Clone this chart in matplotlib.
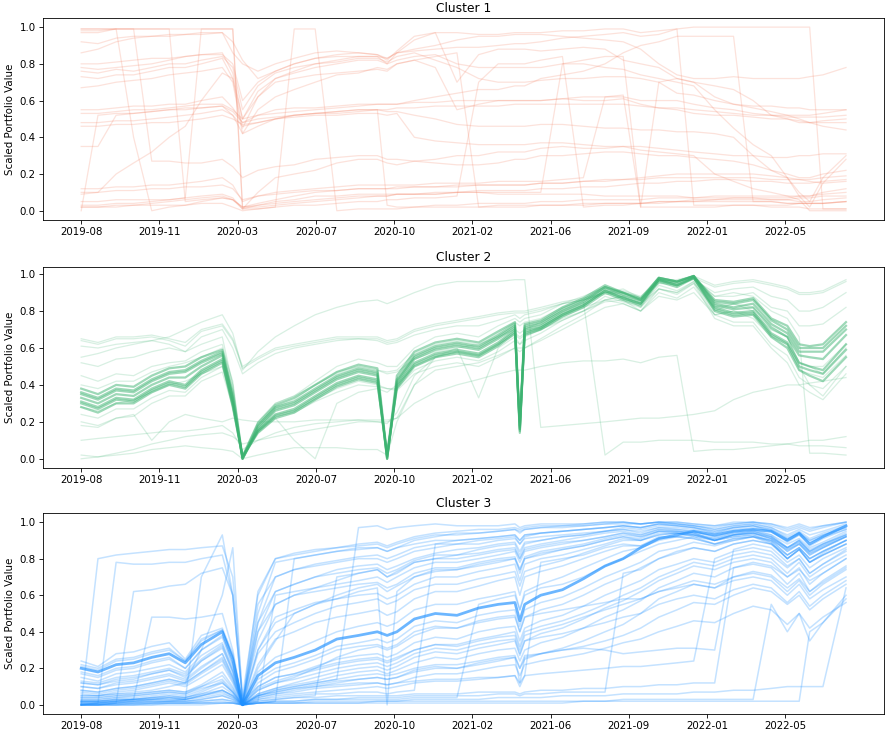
import numpy as np
import pandas as pd
import matplotlib
matplotlib.use('Agg')
import matplotlib.pyplot as plt
import matplotlib.dates as mdates

# shared sampling dates for every portfolio line
dates = pd.to_datetime([
    '2019-08-01', '2019-08-25', '2019-09-20', '2019-10-15', '2019-11-10', '2019-12-05',
    '2019-12-28', '2020-01-20', '2020-02-19', '2020-03-05', '2020-03-19', '2020-04-10',
    '2020-05-05', '2020-06-01', '2020-07-01', '2020-08-01', '2020-09-01', '2020-09-28',
    '2020-10-12', '2020-10-26', '2020-11-20', '2020-12-20', '2021-01-20', '2021-02-20',
    '2021-03-20', '2021-04-13', '2021-04-20', '2021-04-27', '2021-05-20', '2021-06-20',
    '2021-07-20', '2021-08-20', '2021-09-15', '2021-10-10', '2021-11-05', '2021-12-01',
    '2021-12-25', '2022-01-24', '2022-02-20', '2022-03-20', '2022-04-15', '2022-05-08',
    '2022-05-25', '2022-06-09', '2022-06-28', '2022-07-31'])

tick_dates = pd.to_datetime(['2019-08-01', '2019-11-21', '2020-03-12', '2020-07-02', '2020-10-22',
                             '2021-02-11', '2021-06-03', '2021-09-23', '2022-01-13', '2022-05-05'])

titles = ['Cluster 1', 'Cluster 2', 'Cluster 3']
colors = ['#f4876b', 'mediumseagreen', 'dodgerblue']

# ---- cluster 1 ----
c1_lines = [
    [0.92,0.91,0.94,0.95,0.95,0.96,0.96,0.97,0.97,0.86,0.80,0.76,0.80,0.83,0.86,0.87,0.86,0.85,0.82,0.87,0.95,0.97,0.97,0.96,0.96,0.97,0.97,0.97,0.97,0.98,0.98,0.99,0.99,0.97,0.98,0.99,1.00,1.00,1.00,1.00,1.00,1.00,1.00,1.00,0.01,0.01],
    [0.86,0.88,0.92,0.94,0.95,0.95,0.96,0.96,0.97,0.92,0.82,0.72,0.76,0.80,0.83,0.84,0.84,0.84,0.83,0.86,0.87,0.88,0.89,0.89,0.90,0.91,0.91,0.91,0.92,0.94,0.95,0.96,0.97,0.95,0.96,0.99,0.03,0.03,0.03,0.03,0.02,0.02,0.02,0.01,0.01,0.01],
    [0.99,0.99,0.99,0.99,0.99,0.99,0.99,0.99,0.99,0.99,0.02,0.02,0.03,0.04,0.05,0.06,0.07,0.08,0.08,0.09,0.09,0.10,0.10,0.11,0.11,0.11,0.11,0.11,0.12,0.12,0.13,0.13,0.14,0.15,0.15,0.16,0.16,0.17,0.17,0.16,0.16,0.15,0.15,0.15,0.16,0.17],
    [0.73,0.72,0.74,0.74,0.76,0.78,0.78,0.80,0.83,0.72,0.45,0.62,0.72,0.76,0.80,0.82,0.84,0.84,0.80,0.86,0.93,0.97,0.70,0.85,0.88,0.88,0.88,0.88,0.87,0.88,0.89,0.88,0.82,0.80,0.78,0.72,0.70,0.68,0.66,0.60,0.52,0.50,0.48,0.48,0.49,0.50],
    [0.76,0.75,0.77,0.76,0.78,0.80,0.80,0.82,0.84,0.78,0.55,0.68,0.75,0.78,0.80,0.81,0.83,0.83,0.81,0.84,0.86,0.82,0.78,0.72,0.70,0.70,0.70,0.70,0.71,0.72,0.72,0.73,0.73,0.72,0.70,0.64,0.63,0.60,0.58,0.57,0.57,0.56,0.56,0.55,0.55,0.55],
    [0.78,0.77,0.78,0.79,0.80,0.82,0.84,0.85,0.85,0.80,0.60,0.70,0.76,0.80,0.83,0.85,0.86,0.85,0.83,0.86,0.88,0.90,0.93,0.95,0.95,0.96,0.96,0.96,0.96,0.95,0.94,0.93,0.92,0.88,0.80,0.74,0.72,0.72,0.73,0.72,0.72,0.72,0.72,0.73,0.74,0.78],
    [0.67,0.68,0.70,0.71,0.72,0.74,0.75,0.76,0.78,0.70,0.42,0.55,0.62,0.66,0.70,0.74,0.75,0.78,0.77,0.80,0.82,0.78,0.55,0.58,0.60,0.60,0.60,0.60,0.60,0.61,0.62,0.62,0.62,0.60,0.60,0.60,0.58,0.56,0.55,0.53,0.52,0.52,0.52,0.52,0.53,0.55],
    [0.53,0.53,0.54,0.55,0.55,0.56,0.57,0.58,0.58,0.55,0.50,0.52,0.53,0.54,0.55,0.56,0.57,0.58,0.58,0.58,0.59,0.59,0.60,0.60,0.60,0.60,0.60,0.60,0.60,0.61,0.60,0.60,0.61,0.58,0.56,0.55,0.53,0.52,0.52,0.51,0.50,0.50,0.49,0.48,0.48,0.48],
    [0.48,0.48,0.49,0.49,0.50,0.51,0.52,0.53,0.55,0.52,0.46,0.48,0.50,0.52,0.53,0.54,0.55,0.55,0.54,0.54,0.52,0.50,0.47,0.46,0.46,0.46,0.46,0.46,0.47,0.47,0.46,0.45,0.45,0.44,0.44,0.43,0.43,0.42,0.40,0.30,0.22,0.18,0.10,0.05,0.18,0.30],
    [0.46,0.46,0.47,0.47,0.48,0.48,0.49,0.50,0.52,0.50,0.47,0.48,0.50,0.52,0.53,0.54,0.55,0.55,0.03,0.02,0.02,0.03,0.03,0.04,0.04,0.04,0.04,0.04,0.05,0.05,0.06,0.06,0.06,0.06,0.07,0.07,0.07,0.08,0.08,0.08,0.08,0.08,0.08,0.08,0.09,0.10],
    [0.35,0.35,0.52,0.53,0.54,0.55,0.56,0.56,0.57,0.54,0.48,0.50,0.51,0.52,0.53,0.53,0.54,0.55,0.55,0.56,0.56,0.57,0.57,0.57,0.57,0.58,0.58,0.58,0.58,0.58,0.58,0.58,0.58,0.57,0.56,0.56,0.55,0.54,0.53,0.52,0.52,0.51,0.51,0.51,0.51,0.52],
    [0.00,0.52,0.53,0.53,0.54,0.55,0.55,0.56,0.57,0.52,0.42,0.46,0.50,0.51,0.52,0.52,0.53,0.53,0.52,0.53,0.40,0.38,0.37,0.36,0.36,0.36,0.36,0.36,0.37,0.37,0.36,0.35,0.35,0.35,0.34,0.33,0.32,0.31,0.30,0.30,0.29,0.29,0.30,0.30,0.31,0.31],
    [0.09,0.10,0.20,0.26,0.32,0.40,0.46,0.60,0.75,0.72,0.50,0.62,0.70,0.72,0.74,0.75,0.76,0.77,0.76,0.80,0.82,0.84,0.86,0.02,0.02,0.02,0.02,0.02,0.03,0.03,0.03,0.04,0.04,0.04,0.05,0.05,0.05,0.06,0.06,0.06,0.06,0.06,0.07,0.07,0.08,0.08],
    [0.97,0.97,0.99,0.40,0.00,0.02,0.03,0.05,0.07,0.06,0.02,0.04,0.06,0.08,0.10,0.11,0.12,0.12,0.12,0.13,0.13,0.13,0.14,0.14,0.14,0.14,0.14,0.14,0.15,0.15,0.16,0.16,0.17,0.17,0.18,0.18,0.18,0.18,0.18,0.18,0.17,0.17,0.17,0.17,0.18,0.19],
    [0.98,0.98,0.99,0.99,0.27,0.27,0.26,0.26,0.28,0.24,0.18,0.22,0.24,0.25,0.28,0.29,0.30,0.30,0.28,0.28,0.27,0.26,0.25,0.25,0.26,0.28,0.28,0.28,0.30,0.30,0.31,0.32,0.32,0.31,0.30,0.30,0.29,0.28,0.27,0.25,0.22,0.20,0.18,0.18,0.20,0.22],
    [0.99,0.99,0.99,0.99,0.99,0.99,0.05,0.06,0.07,0.06,0.02,0.03,0.04,0.05,0.06,0.07,0.08,0.08,0.08,0.09,0.09,0.09,0.10,0.10,0.10,0.10,0.10,0.10,0.10,0.80,0.82,0.84,0.84,0.02,0.02,0.02,0.02,0.02,0.03,0.03,0.03,0.03,0.04,0.04,0.04,0.05],
    [0.05,0.05,0.06,0.06,0.06,0.06,0.07,0.99,0.99,0.99,0.01,0.01,0.02,0.99,0.99,0.00,0.01,0.01,0.01,0.01,0.02,0.02,0.02,0.02,0.03,0.03,0.03,0.03,0.03,0.03,0.04,0.04,0.04,0.04,0.04,0.05,0.05,0.05,0.05,0.05,0.05,0.04,0.04,0.04,0.04,0.05],
    [0.02,0.02,0.03,0.03,0.04,0.05,0.06,0.07,0.08,0.06,0.01,0.10,0.18,0.20,0.22,0.26,0.28,0.28,0.26,0.25,0.27,0.28,0.30,0.30,0.32,0.32,0.32,0.32,0.34,0.35,0.34,0.34,0.35,0.33,0.32,0.31,0.30,0.20,0.16,0.12,0.10,0.08,0.06,0.00,0.00,0.00],
    [0.10,0.10,0.11,0.11,0.12,0.12,0.13,0.13,0.14,0.12,0.06,0.08,0.09,0.10,0.11,0.11,0.12,0.12,0.12,0.12,0.13,0.13,0.13,0.14,0.14,0.14,0.14,0.14,0.15,0.15,0.16,0.17,0.17,0.18,0.19,0.20,0.20,0.20,0.20,0.20,0.19,0.18,0.17,0.16,0.15,0.16],
    [0.03,0.03,0.04,0.04,0.05,0.06,0.07,0.08,0.09,0.07,0.01,0.03,0.05,0.06,0.08,0.08,0.09,0.09,0.09,0.09,0.09,0.09,0.10,0.10,0.09,0.09,0.09,0.09,0.09,0.09,0.09,0.08,0.08,0.08,0.08,0.08,0.07,0.07,0.07,0.07,0.06,0.06,0.05,0.05,0.06,0.07],
    [0.02,0.02,0.02,0.03,0.03,0.03,0.03,0.04,0.04,0.02,0.00,0.01,0.02,0.03,0.03,0.04,0.05,0.05,0.06,0.06,0.07,0.07,0.08,0.70,0.80,0.80,0.80,0.80,0.82,0.84,0.02,0.03,0.03,0.04,0.05,0.05,0.06,0.06,0.07,0.07,0.07,0.07,0.08,0.08,0.10,0.12],
    [0.12,0.12,0.13,0.13,0.14,0.14,0.15,0.16,0.18,0.14,0.05,0.08,0.10,0.11,0.12,0.13,0.14,0.14,0.14,0.14,0.14,0.15,0.15,0.15,0.16,0.16,0.16,0.16,0.16,0.17,0.18,0.62,0.63,0.02,0.70,0.72,0.70,0.62,0.58,0.56,0.54,0.52,0.50,0.48,0.46,0.44],
    [0.55,0.55,0.56,0.57,0.57,0.58,0.58,0.60,0.62,0.56,0.48,0.52,0.55,0.56,0.56,0.57,0.58,0.58,0.58,0.58,0.60,0.62,0.64,0.66,0.66,0.68,0.68,0.68,0.72,0.74,0.76,0.80,0.86,0.90,0.92,0.95,0.95,0.95,0.95,0.05,0.05,0.04,0.04,0.04,0.04,0.05],
    [0.80,0.80,0.81,0.82,0.83,0.83,0.84,0.85,0.86,0.75,0.50,0.65,0.72,0.75,0.78,0.80,0.82,0.82,0.80,0.82,0.84,0.85,0.80,0.78,0.78,0.78,0.78,0.78,0.78,0.80,0.80,0.78,0.77,0.74,0.72,0.70,0.68,0.55,0.45,0.36,0.30,0.18,0.08,0.02,0.15,0.28],
]

# ---- cluster 2 ----
c2_core = [
    [0.35,0.32,0.37,0.36,0.42,0.46,0.47,0.52,0.57,0.33,0.00,0.17,0.27,0.30,0.37,0.44,0.48,0.46,0.00,0.42,0.55,0.60,0.62,0.60,0.66,0.72,0.15,0.71,0.73,0.80,0.85,0.93,0.89,0.86,0.98,0.96,0.99,0.84,0.82,0.84,0.73,0.68,0.58,0.58,0.58,0.70],
    [0.38,0.35,0.40,0.39,0.45,0.49,0.50,0.55,0.59,0.36,0.01,0.19,0.29,0.33,0.40,0.47,0.51,0.49,0.02,0.45,0.58,0.63,0.65,0.63,0.69,0.74,0.18,0.73,0.75,0.82,0.87,0.94,0.90,0.87,0.98,0.96,0.99,0.86,0.85,0.87,0.76,0.72,0.62,0.61,0.62,0.74],
    [0.31,0.28,0.33,0.32,0.38,0.42,0.40,0.48,0.54,0.30,0.00,0.15,0.24,0.27,0.34,0.41,0.45,0.43,0.00,0.40,0.52,0.57,0.59,0.57,0.63,0.70,0.14,0.69,0.71,0.78,0.83,0.91,0.87,0.84,0.97,0.94,0.98,0.82,0.79,0.80,0.68,0.63,0.52,0.50,0.48,0.62],
    [0.28,0.25,0.30,0.30,0.36,0.40,0.38,0.46,0.52,0.28,0.01,0.14,0.22,0.25,0.32,0.39,0.43,0.41,0.03,0.38,0.50,0.55,0.57,0.55,0.61,0.68,0.20,0.67,0.70,0.77,0.82,0.90,0.86,0.83,0.96,0.93,0.98,0.80,0.77,0.78,0.66,0.60,0.48,0.45,0.42,0.55],
    [0.33,0.30,0.35,0.34,0.40,0.44,0.44,0.50,0.56,0.32,0.00,0.16,0.26,0.29,0.36,0.43,0.47,0.45,0.01,0.41,0.54,0.59,0.61,0.59,0.65,0.71,0.16,0.70,0.72,0.79,0.84,0.92,0.88,0.85,0.97,0.95,0.99,0.83,0.81,0.82,0.71,0.66,0.56,0.55,0.54,0.67],
    [0.36,0.33,0.38,0.37,0.43,0.47,0.48,0.53,0.58,0.34,0.00,0.18,0.28,0.31,0.38,0.45,0.49,0.47,0.00,0.43,0.56,0.61,0.63,0.61,0.67,0.73,0.16,0.72,0.74,0.81,0.86,0.93,0.90,0.86,0.98,0.96,0.99,0.85,0.84,0.86,0.75,0.70,0.60,0.60,0.60,0.72],
    [0.30,0.27,0.32,0.31,0.37,0.41,0.39,0.47,0.53,0.29,0.01,0.15,0.23,0.26,0.33,0.40,0.44,0.42,0.01,0.39,0.51,0.56,0.58,0.56,0.62,0.69,0.17,0.68,0.71,0.78,0.83,0.91,0.87,0.84,0.97,0.94,0.98,0.81,0.78,0.79,0.67,0.62,0.50,0.48,0.46,0.59],
]
c2_other = [
    [0.65,0.63,0.66,0.66,0.67,0.65,0.63,0.70,0.73,0.65,0.50,0.55,0.60,0.62,0.64,0.66,0.66,0.66,0.64,0.65,0.70,0.73,0.75,0.77,0.79,0.80,0.80,0.80,0.82,0.85,0.87,0.90,0.91,0.88,0.96,0.97,0.99,0.94,0.96,0.97,0.95,0.93,0.90,0.90,0.91,0.97],
    [0.64,0.62,0.65,0.65,0.66,0.64,0.61,0.69,0.72,0.64,0.49,0.54,0.59,0.61,0.63,0.65,0.65,0.65,0.63,0.64,0.69,0.72,0.74,0.76,0.78,0.79,0.79,0.79,0.81,0.84,0.86,0.89,0.90,0.87,0.95,0.96,0.98,0.93,0.95,0.96,0.94,0.92,0.89,0.89,0.90,0.96],
    [0.24,0.22,0.27,0.27,0.33,0.37,0.36,0.44,0.50,0.30,0.02,0.16,0.24,0.26,0.32,0.38,0.42,0.40,0.38,0.38,0.48,0.53,0.55,0.53,0.58,0.64,0.62,0.64,0.68,0.75,0.80,0.88,0.85,0.82,0.94,0.91,0.96,0.78,0.74,0.74,0.62,0.56,0.44,0.40,0.38,0.50],
    [0.18,0.17,0.22,0.23,0.30,0.34,0.34,0.42,0.47,0.28,0.02,0.15,0.23,0.25,0.31,0.36,0.40,0.39,0.38,0.37,0.46,0.50,0.52,0.50,0.55,0.60,0.58,0.60,0.65,0.72,0.78,0.86,0.84,0.80,0.92,0.89,0.95,0.76,0.72,0.72,0.60,0.52,0.40,0.36,0.32,0.46],
    [0.52,0.50,0.54,0.55,0.58,0.60,0.58,0.62,0.66,0.40,0.02,0.20,0.30,0.34,0.42,0.50,0.54,0.52,0.50,0.50,0.60,0.66,0.68,0.66,0.72,0.76,0.74,0.76,0.78,0.84,0.88,0.93,0.90,0.86,0.97,0.95,0.98,0.88,0.88,0.90,0.82,0.80,0.72,0.72,0.73,0.82],
    [0.61,0.60,0.62,0.63,0.64,0.62,0.58,0.66,0.70,0.60,0.46,0.52,0.57,0.60,0.62,0.64,0.65,0.64,0.62,0.63,0.67,0.70,0.72,0.72,0.75,0.78,0.76,0.78,0.80,0.84,0.86,0.90,0.90,0.86,0.95,0.94,0.97,0.90,0.92,0.93,0.88,0.86,0.80,0.80,0.82,0.90],
    [0.55,0.57,0.60,0.62,0.64,0.66,0.70,0.74,0.78,0.68,0.48,0.58,0.66,0.72,0.78,0.82,0.85,0.86,0.84,0.86,0.90,0.94,0.96,0.96,0.96,0.97,0.97,0.97,0.17,0.18,0.19,0.20,0.21,0.22,0.22,0.23,0.24,0.26,0.32,0.36,0.38,0.40,0.40,0.41,0.42,0.44],
    [0.10,0.11,0.12,0.13,0.14,0.15,0.15,0.16,0.18,0.14,0.05,0.10,0.14,0.17,0.19,0.20,0.21,0.20,0.19,0.25,0.45,0.55,0.60,0.62,0.66,0.70,0.68,0.70,0.74,0.80,0.85,0.02,0.09,0.09,0.10,0.10,0.10,0.09,0.09,0.09,0.08,0.08,0.07,0.07,0.07,0.06],
    [0.02,0.01,0.03,0.05,0.08,0.10,0.12,0.13,0.14,0.12,0.08,0.10,0.12,0.14,0.16,0.18,0.20,0.20,0.20,0.22,0.30,0.36,0.40,0.43,0.46,0.48,0.48,0.48,0.50,0.52,0.53,0.53,0.54,0.52,0.55,0.56,0.04,0.05,0.05,0.06,0.07,0.08,0.09,0.10,0.10,0.12],
    [0.00,0.01,0.02,0.03,0.05,0.06,0.07,0.06,0.05,0.04,0.00,0.02,0.04,0.06,0.06,0.06,0.05,0.05,0.02,0.20,0.40,0.55,0.58,0.56,0.62,0.68,0.66,0.68,0.70,0.75,0.80,0.86,0.88,0.84,0.92,0.90,0.95,0.82,0.84,0.80,0.70,0.66,0.52,0.50,0.50,0.62],
    [0.20,0.18,0.22,0.24,0.10,0.20,0.24,0.22,0.20,0.22,0.21,0.20,0.20,0.20,0.21,0.21,0.21,0.21,0.21,0.22,0.40,0.48,0.50,0.52,0.56,0.60,0.60,0.60,0.64,0.70,0.76,0.82,0.84,0.80,0.88,0.86,0.90,0.78,0.80,0.76,0.66,0.62,0.48,0.46,0.44,0.56],
    [0.28,0.26,0.30,0.32,0.36,0.40,0.42,0.46,0.50,0.30,0.02,0.14,0.22,0.10,0.00,0.30,0.36,0.38,0.36,0.40,0.50,0.55,0.58,0.56,0.62,0.67,0.65,0.67,0.70,0.76,0.80,0.85,0.86,0.80,0.90,0.87,0.93,0.78,0.80,0.78,0.70,0.66,0.50,0.40,0.34,0.50],
    [0.40,0.38,0.42,0.42,0.47,0.50,0.52,0.55,0.60,0.42,0.02,0.20,0.30,0.34,0.40,0.47,0.50,0.48,0.47,0.48,0.57,0.62,0.64,0.62,0.68,0.74,0.72,0.74,0.76,0.82,0.86,0.90,0.92,0.87,0.96,0.94,0.98,0.88,0.90,0.88,0.80,0.76,0.66,0.03,0.03,0.02],
    [0.45,0.42,0.46,0.45,0.50,0.52,0.53,0.58,0.62,0.40,0.01,0.18,0.28,0.32,0.40,0.46,0.50,0.48,0.46,0.47,0.54,0.58,0.60,0.33,0.60,0.66,0.62,0.66,0.70,0.77,0.82,0.86,0.88,0.82,0.92,0.90,0.96,0.80,0.84,0.82,0.72,0.66,0.52,0.50,0.46,0.60],
]

# ---- cluster 3 ----
c3_core = [
    [0.20,0.18,0.22,0.23,0.26,0.28,0.23,0.33,0.40,0.25,0.00,0.16,0.23,0.26,0.30,0.36,0.38,0.40,0.38,0.40,0.47,0.50,0.49,0.53,0.55,0.56,0.46,0.55,0.60,0.63,0.69,0.76,0.80,0.86,0.91,0.93,0.95,0.93,0.95,0.96,0.95,0.90,0.94,0.88,0.92,0.98],
]
c3_other = [
    [0.01,0.01,0.01,0.02,0.02,0.02,0.02,0.03,0.05,0.03,0.00,0.02,0.03,0.04,0.04,0.05,0.05,0.05,0.05,0.05,0.06,0.06,0.06,0.07,0.07,0.07,0.06,0.07,0.08,0.08,0.09,0.09,0.10,0.10,0.11,0.11,0.12,0.12,0.75,0.78,0.76,0.70,0.74,0.68,0.72,0.80],
    [0.24,0.21,0.28,0.29,0.32,0.34,0.25,0.38,0.42,0.28,0.01,0.50,0.78,0.80,0.82,0.84,0.86,0.86,0.84,0.86,0.90,0.92,0.94,0.94,0.95,0.96,0.95,0.96,0.97,0.97,0.98,0.99,1.00,0.99,1.00,1.00,0.99,0.98,1.00,1.00,0.99,0.97,0.99,0.97,0.98,1.00],
    [0.00,0.80,0.82,0.83,0.84,0.85,0.85,0.86,0.87,0.70,0.05,0.60,0.80,0.82,0.84,0.86,0.88,0.89,0.87,0.89,0.92,0.94,0.95,0.96,0.96,0.97,0.96,0.97,0.98,0.98,0.99,1.00,1.00,0.99,1.00,0.99,0.98,0.97,0.99,1.00,0.99,0.96,0.98,0.96,0.98,1.00],
    [0.00,0.01,0.78,0.77,0.77,0.78,0.78,0.80,0.82,0.60,0.03,0.45,0.70,0.74,0.76,0.78,0.80,0.80,0.78,0.80,0.84,0.86,0.88,0.88,0.90,0.91,0.88,0.91,0.92,0.93,0.94,0.95,0.96,0.95,0.97,0.97,0.96,0.94,0.96,0.97,0.95,0.90,0.93,0.89,0.92,0.96],
    [0.01,0.01,0.01,0.62,0.63,0.65,0.66,0.72,0.75,0.60,0.02,0.40,0.62,0.66,0.70,0.74,0.76,0.77,0.74,0.76,0.80,0.83,0.85,0.86,0.88,0.89,0.84,0.89,0.90,0.92,0.93,0.95,0.96,0.94,0.97,0.96,0.95,0.92,0.94,0.95,0.92,0.86,0.90,0.85,0.88,0.93],
    [0.00,0.01,0.02,0.03,0.48,0.48,0.47,0.48,0.50,0.30,0.01,0.30,0.45,0.50,0.55,0.60,0.64,0.66,0.62,0.65,0.70,0.73,0.74,0.76,0.78,0.80,0.74,0.80,0.82,0.85,0.87,0.90,0.92,0.91,0.95,0.94,0.93,0.90,0.92,0.93,0.90,0.82,0.86,0.80,0.84,0.90],
    [0.00,0.00,0.01,0.01,0.02,0.02,0.03,0.70,0.93,0.60,0.02,0.35,0.55,0.60,0.64,0.68,0.72,0.74,0.70,0.72,0.78,0.80,0.82,0.83,0.85,0.86,0.80,0.86,0.88,0.90,0.92,0.94,0.95,0.93,0.96,0.95,0.94,0.90,0.92,0.93,0.89,0.80,0.85,0.78,0.82,0.88],
    [0.15,0.13,0.17,0.18,0.20,0.22,0.18,0.27,0.34,0.20,0.00,0.12,0.18,0.21,0.25,0.30,0.32,0.33,0.31,0.33,0.40,0.43,0.42,0.46,0.48,0.49,0.40,0.48,0.52,0.55,0.60,0.66,0.70,0.75,0.80,0.83,0.86,0.84,0.88,0.90,0.88,0.82,0.86,0.80,0.84,0.90],
    [0.10,0.09,0.12,0.13,0.15,0.17,0.14,0.21,0.28,0.16,0.00,0.10,0.15,0.17,0.21,0.25,0.27,0.28,0.26,0.28,0.34,0.37,0.36,0.40,0.42,0.43,0.35,0.42,0.46,0.49,0.54,0.60,0.64,0.68,0.74,0.77,0.80,0.78,0.82,0.84,0.82,0.75,0.80,0.72,0.77,0.84],
    [0.06,0.05,0.07,0.08,0.10,0.12,0.10,0.15,0.22,0.12,0.00,0.08,0.12,0.14,0.17,0.20,0.22,0.23,0.21,0.23,0.28,0.31,0.30,0.33,0.35,0.36,0.28,0.35,0.39,0.42,0.47,0.53,0.57,0.62,0.68,0.72,0.76,0.74,0.78,0.80,0.78,0.70,0.75,0.66,0.72,0.80],
    [0.03,0.03,0.04,0.05,0.06,0.07,0.06,0.10,0.16,0.09,0.00,0.06,0.09,0.11,0.13,0.16,0.18,0.19,0.17,0.19,0.23,0.26,0.25,0.28,0.30,0.31,0.24,0.30,0.34,0.37,0.42,0.48,0.52,0.57,0.64,0.68,0.72,0.70,0.75,0.77,0.75,0.66,0.72,0.62,0.68,0.76],
    [0.02,0.02,0.03,0.03,0.04,0.05,0.04,0.07,0.12,0.07,0.00,0.05,0.07,0.09,0.11,0.13,0.14,0.15,0.14,0.15,0.19,0.21,0.20,0.23,0.25,0.26,0.20,0.25,0.28,0.31,0.35,0.40,0.44,0.50,0.58,0.62,0.66,0.64,0.70,0.72,0.70,0.62,0.68,0.60,0.66,0.74],
    [0.00,0.00,0.01,0.01,0.01,0.01,0.01,0.02,0.03,0.02,0.00,0.01,0.02,0.02,0.03,0.03,0.03,0.03,0.03,0.03,0.04,0.04,0.04,0.55,0.58,0.60,0.52,0.60,0.64,0.66,0.70,0.76,0.80,0.84,0.88,0.90,0.92,0.90,0.93,0.94,0.92,0.86,0.90,0.84,0.88,0.94],
    [0.05,0.05,0.06,0.06,0.07,0.08,0.07,0.10,0.14,0.08,0.00,0.05,0.08,0.10,0.12,0.14,0.97,0.98,0.96,0.97,0.98,0.99,0.98,0.98,0.98,0.99,0.97,0.98,0.99,0.99,0.99,1.00,1.00,0.99,1.00,0.99,0.98,0.96,0.98,0.99,0.97,0.93,0.96,0.93,0.95,0.99],
    [0.00,0.00,0.00,0.01,0.01,0.01,0.01,0.01,0.02,0.01,0.00,0.01,0.02,0.80,0.82,0.84,0.85,0.86,0.84,0.86,0.88,0.90,0.90,0.91,0.92,0.93,0.90,0.93,0.94,0.95,0.96,0.97,0.98,0.97,0.99,0.98,0.97,0.95,0.97,0.98,0.96,0.91,0.94,0.90,0.93,0.97],
    [0.08,0.07,0.09,0.10,0.12,0.14,0.12,0.18,0.25,0.14,0.00,0.20,0.35,0.50,0.55,0.58,0.62,0.64,0.00,0.62,0.70,0.74,0.74,0.77,0.79,0.80,0.72,0.80,0.83,0.85,0.87,0.90,0.92,0.90,0.94,0.94,0.92,0.88,0.91,0.92,0.88,0.80,0.85,0.78,0.82,0.88],
    [0.01,0.01,0.02,0.02,0.03,0.03,0.03,0.05,0.08,0.05,0.00,0.04,0.06,0.08,0.10,0.12,0.14,0.15,0.14,0.15,0.18,0.20,0.20,0.22,0.24,0.26,0.12,0.26,0.28,0.30,0.32,0.35,0.38,0.42,0.48,0.52,0.56,0.55,0.60,0.64,0.62,0.55,0.60,0.52,0.58,0.66],
    [0.00,0.00,0.00,0.00,0.00,0.00,0.00,0.00,0.01,0.01,0.00,0.01,0.01,0.01,0.02,0.02,0.02,0.02,0.02,0.02,0.03,0.03,0.03,0.03,0.04,0.04,0.04,0.04,0.04,0.05,0.05,0.05,0.06,0.06,0.06,0.06,0.07,0.07,0.08,0.08,0.09,0.10,0.10,0.10,0.10,0.64],
    [0.00,0.00,0.00,0.00,0.01,0.01,0.01,0.01,0.01,0.01,0.00,0.01,0.01,0.01,0.01,0.01,0.01,0.02,0.02,0.02,0.02,0.02,0.02,0.02,0.02,0.02,0.02,0.02,0.02,0.02,0.02,0.02,0.03,0.03,0.03,0.03,0.03,0.03,0.03,0.03,0.55,0.40,0.50,0.35,0.45,0.60],
    [0.00,0.00,0.01,0.01,0.01,0.02,0.02,0.02,0.03,0.02,0.00,0.01,0.02,0.02,0.03,0.03,0.04,0.04,0.04,0.04,0.05,0.05,0.05,0.05,0.06,0.06,0.05,0.06,0.06,0.07,0.07,0.07,0.72,0.74,0.80,0.84,0.86,0.84,0.88,0.90,0.88,0.80,0.85,0.78,0.82,0.88],
    [0.02,0.02,0.03,0.03,0.04,0.05,0.04,0.06,0.10,0.06,0.00,0.05,0.08,0.10,0.12,0.14,0.16,0.17,0.16,0.17,0.20,0.22,0.22,0.24,0.26,0.27,0.20,0.27,0.28,0.30,0.31,0.30,0.28,0.29,0.30,0.31,0.31,0.30,0.85,0.88,0.86,0.78,0.82,0.75,0.80,0.86],
    [0.04,0.04,0.05,0.05,0.06,0.07,0.06,0.09,0.12,0.07,0.00,0.05,0.07,0.09,0.10,0.11,0.12,0.12,0.11,0.12,0.13,0.14,0.14,0.15,0.15,0.16,0.12,0.16,0.78,0.80,0.82,0.86,0.88,0.87,0.92,0.92,0.91,0.88,0.90,0.92,0.90,0.82,0.86,0.80,0.84,0.90],
    [0.02,0.02,0.03,0.03,0.04,0.04,0.04,0.06,0.08,0.05,0.00,0.02,0.60,0.62,0.64,0.66,0.68,0.70,0.67,0.70,0.75,0.78,0.78,0.80,0.82,0.84,0.78,0.84,0.86,0.88,0.90,0.92,0.94,0.93,0.96,0.96,0.95,0.92,0.95,0.96,0.93,0.86,0.90,0.84,0.88,0.93],
    [0.01,0.01,0.01,0.02,0.02,0.02,0.02,0.03,0.05,0.03,0.00,0.02,0.03,0.04,0.05,0.70,0.72,0.74,0.70,0.73,0.78,0.80,0.80,0.82,0.84,0.85,0.80,0.85,0.87,0.89,0.90,0.92,0.94,0.92,0.95,0.95,0.94,0.90,0.93,0.94,0.91,0.84,0.88,0.82,0.86,0.92],
    [0.05,0.05,0.06,0.07,0.08,0.10,0.12,0.30,0.60,0.86,0.02,0.10,0.15,0.17,0.20,0.23,0.25,0.26,0.24,0.26,0.30,0.33,0.33,0.36,0.38,0.40,0.32,0.40,0.43,0.46,0.50,0.55,0.60,0.64,0.70,0.74,0.78,0.76,0.80,0.82,0.80,0.72,0.78,0.70,0.75,0.82],
    [0.12,0.11,0.14,0.15,0.17,0.19,0.16,0.24,0.32,0.18,0.00,0.40,0.55,0.60,0.62,0.64,0.66,0.67,0.64,0.66,0.72,0.75,0.75,0.78,0.80,0.81,0.74,0.81,0.84,0.86,0.88,0.91,0.93,0.92,0.95,0.95,0.94,0.91,0.94,0.95,0.92,0.85,0.89,0.83,0.87,0.92],
    [0.18,0.16,0.20,0.21,0.24,0.26,0.20,0.30,0.38,0.22,0.00,0.55,0.70,0.74,0.77,0.79,0.81,0.82,0.80,0.82,0.86,0.88,0.88,0.90,0.91,0.92,0.88,0.92,0.94,0.95,0.96,0.97,0.98,0.97,0.99,0.99,0.98,0.96,0.98,0.99,0.97,0.92,0.95,0.91,0.94,0.98],
    [0.01,0.01,0.02,0.02,0.03,0.03,0.03,0.04,0.06,0.04,0.00,0.03,0.05,0.06,0.07,0.08,0.09,0.10,0.09,0.10,0.12,0.13,0.13,0.14,0.15,0.16,0.10,0.16,0.17,0.18,0.19,0.20,0.21,0.21,0.22,0.23,0.24,0.80,0.84,0.86,0.84,0.76,0.80,0.72,0.77,0.85],
    [0.04,0.04,0.05,0.06,0.07,0.08,0.07,0.11,0.18,0.10,0.00,0.08,0.12,0.15,0.20,0.26,0.30,0.32,0.30,0.32,0.38,0.42,0.42,0.45,0.47,0.48,0.40,0.48,0.50,0.52,0.54,0.56,0.58,0.58,0.62,0.64,0.66,0.64,0.68,0.70,0.68,0.60,0.66,0.58,0.63,0.70],
    [0.10,0.09,0.11,0.12,0.14,0.16,0.13,0.20,0.28,0.15,0.00,0.30,0.48,0.52,0.56,0.58,0.60,0.61,0.58,0.60,0.66,0.70,0.70,0.73,0.75,0.77,0.68,0.77,0.80,0.82,0.85,0.88,0.91,0.90,0.93,0.94,0.93,0.90,0.93,0.94,0.91,0.84,0.88,0.82,0.86,0.92],
    [0.07,0.06,0.08,0.09,0.11,0.13,0.11,0.17,0.24,0.13,0.00,0.22,0.36,0.40,0.45,0.48,0.50,0.52,0.49,0.51,0.58,0.62,0.62,0.65,0.68,0.70,0.60,0.70,0.73,0.76,0.80,0.84,0.87,0.87,0.91,0.92,0.91,0.88,0.91,0.92,0.89,0.80,0.85,0.78,0.83,0.90],
    [0.13,0.12,0.15,0.16,0.18,0.20,0.17,0.25,0.33,0.19,0.00,0.45,0.62,0.66,0.70,0.72,0.74,0.75,0.72,0.74,0.79,0.82,0.82,0.85,0.87,0.88,0.82,0.88,0.90,0.92,0.93,0.95,0.97,0.96,0.98,0.98,0.97,0.94,0.97,0.98,0.95,0.89,0.93,0.87,0.91,0.96],
    [0.03,0.03,0.04,0.04,0.05,0.06,0.05,0.08,0.13,0.07,0.00,0.06,0.09,0.12,0.15,0.18,0.20,0.21,0.19,0.21,0.26,0.29,0.28,0.31,0.33,0.35,0.27,0.35,0.37,0.39,0.42,0.45,0.48,0.50,0.55,0.58,0.60,0.58,0.63,0.66,0.64,0.56,0.62,0.54,0.60,0.68],
    [0.22,0.20,0.25,0.26,0.29,0.31,0.24,0.36,0.41,0.26,0.01,0.62,0.80,0.83,0.85,0.86,0.87,0.88,0.86,0.88,0.91,0.93,0.93,0.94,0.95,0.96,0.94,0.96,0.97,0.98,0.98,0.99,0.99,0.99,1.00,1.00,0.99,0.98,0.99,1.00,0.98,0.95,0.97,0.95,0.97,1.00],
    [0.02,0.02,0.02,0.03,0.03,0.04,0.03,0.05,0.07,0.04,0.00,0.03,0.04,0.05,0.06,0.06,0.07,0.07,0.06,0.07,0.08,0.88,0.90,0.91,0.92,0.93,0.90,0.93,0.94,0.95,0.96,0.97,0.98,0.97,0.99,0.98,0.97,0.95,0.97,0.98,0.96,0.91,0.94,0.90,0.93,0.97],
    [0.02,0.02,0.02,0.03,0.03,0.04,0.03,0.05,0.08,0.05,0.00,0.04,0.06,0.07,0.09,0.10,0.11,0.12,0.11,0.12,0.15,0.17,0.17,0.19,0.21,0.22,0.16,0.22,0.24,0.26,0.28,0.31,0.34,0.36,0.40,0.43,0.46,0.45,0.50,0.54,0.52,0.44,0.50,0.42,0.48,0.56],
    [0.00,0.00,0.00,0.00,0.00,0.01,0.01,0.01,0.01,0.01,0.00,0.01,0.01,0.01,0.01,0.01,0.01,0.01,0.01,0.01,0.01,0.01,0.01,0.01,0.01,0.01,0.01,0.01,0.01,0.01,0.02,0.02,0.02,0.02,0.02,0.02,0.02,0.02,0.02,0.02,0.02,0.02,0.02,0.40,0.45,0.58],
    [0.12,0.11,0.13,0.14,0.17,0.19,0.15,0.24,0.31,0.18,0.00,0.14,0.20,0.23,0.27,0.32,0.34,0.36,0.34,0.36,0.43,0.46,0.45,0.49,0.51,0.52,0.43,0.52,0.56,0.59,0.64,0.70,0.74,0.78,0.84,0.86,0.89,0.87,0.90,0.92,0.90,0.85,0.88,0.83,0.86,0.92],
    [0.17,0.15,0.19,0.20,0.23,0.25,0.20,0.30,0.37,0.22,0.00,0.28,0.40,0.45,0.50,0.54,0.56,0.58,0.55,0.57,0.63,0.66,0.66,0.69,0.71,0.73,0.65,0.73,0.76,0.79,0.83,0.87,0.90,0.90,0.93,0.94,0.93,0.90,0.93,0.94,0.91,0.86,0.89,0.84,0.87,0.93],
    [0.08,0.07,0.09,0.10,0.12,0.14,0.12,0.18,0.26,0.15,0.00,0.09,0.13,0.16,0.19,0.22,0.24,0.25,0.23,0.25,0.30,0.33,0.32,0.35,0.37,0.38,0.30,0.38,0.41,0.44,0.48,0.52,0.55,0.58,0.62,0.65,0.68,0.66,0.70,0.73,0.71,0.64,0.69,0.62,0.67,0.75],
    [0.21,0.19,0.24,0.25,0.28,0.30,0.24,0.35,0.41,0.27,0.00,0.18,0.26,0.30,0.35,0.40,0.43,0.45,0.43,0.45,0.52,0.55,0.55,0.58,0.60,0.62,0.52,0.62,0.66,0.70,0.75,0.80,0.84,0.86,0.90,0.92,0.93,0.91,0.93,0.95,0.93,0.88,0.91,0.86,0.89,0.95],
]

groups = [([], c1_lines), (c2_core, c2_other), (c3_core, c3_other)]
# (core alpha, core width, other alpha, other width)
styles = [(0.0, 0.0, 0.24, 0.9), (0.5, 1.6, 0.2, 0.9), (0.65, 2.0, 0.26, 1.1)]

fig = plt.figure(figsize=(8.86, 7.38), dpi=100)
ax_pos = [[0.0485, 0.702, 0.9495, 0.2737],
          [0.0485, 0.366, 0.9495, 0.2724],
          [0.0485, 0.0325, 0.9495, 0.2724]]

for k in range(3):
    ax = fig.add_axes(ax_pos[k])
    core, other = groups[k]
    a_core, w_core, a_other, w_other = styles[k]
    for vals in other:
        ax.plot(dates, vals, color=colors[k], alpha=a_other, linewidth=w_other)
    for vals in core:
        ax.plot(dates, vals, color=colors[k], alpha=a_core, linewidth=w_core)
    ax.set_title(titles[k], fontsize=8.8, pad=4.4)
    ax.set_ylabel('Scaled Portfolio Value', fontsize=7.4, labelpad=3)
    ax.set_xticks(tick_dates)
    ax.xaxis.set_major_formatter(mdates.DateFormatter('%Y-%m'))
    ax.set_yticks([0.0, 0.2, 0.4, 0.6, 0.8, 1.0])
    ax.tick_params(labelsize=7.4, length=2.6, width=0.6, pad=2.6)
    for s in ax.spines.values():
        s.set_linewidth(0.6)

fig.savefig('out.png', dpi=100)
